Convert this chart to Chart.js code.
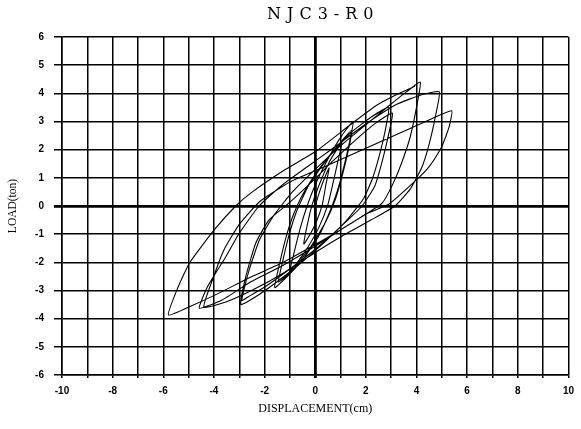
<!DOCTYPE html>
<html><head><meta charset="utf-8">
<script src="https://cdn.jsdelivr.net/npm/chart.js@4"></script>
<style>html,body{margin:0;padding:0;background:#fff;}#wrap{width:581px;height:429px;}</style>
</head><body><div id="wrap"><canvas id="c" width="581" height="429"></canvas></div>
<script>
const TITLE = 'NJC3-R0';
const X_TITLE = 'DISPLACEMENT(cm)';
const Y_TITLE = 'LOAD(ton)';
const xLabelValues = [-10, -8, -6, -4, -2, 0, 2, 4, 6, 8, 10];
const yLabelValues = [-6, -5, -4, -3, -2, -1, 0, 1, 2, 3, 4, 5, 6];

// hysteresis path: displacement (cm) and load (ton)
const dispCm = [
  0, 0.15, 0.35, 0.55,
  0.42, 0.28, 0.05, -0.2, -0.45,
  -0.32, -0.12, 0.2, 0.55, 0.85, 1.05,
  0.9, 0.7, 0.5, 0.15, -0.35, -0.75, -1.0,
  -0.82, -0.58, -0.32, 0.05, 0.55, 1.05, 1.5,
  1.35, 1.12, 0.88, 0.6, 0.15, -0.45, -1.05, -1.6,
  -1.42, -1.18, -0.9, -0.5, 0.1, 0.8, 1.45,
  1.3, 1.06, 0.8, 0.42, -0.18, -0.88, -1.45,
  -1.28, -1.04, -0.72, -0.25, 0.5, 1.4, 2.2, 2.9,
  2.78, 2.55, 2.25, 1.9, 1.25, 0.35, -0.6, -1.6, -2.4, -2.94,
  -2.74, -2.35, -1.83, -1.04, -0.2, 0.7, 1.6, 2.4, 3.05,
  2.9, 2.65, 2.35, 1.85, 1.05, 0.05, -0.95, -1.95, -2.6, -2.9,
  -2.62, -2.2, -1.65, -0.9, 0.0, 0.95, 1.95, 2.9, 3.6, 4.15,
  4.02, 3.75, 3.4, 3.05, 2.64, 1.9, 1.0, 0.04, -1.26, -2.56, -3.7, -4.58,
  -4.25, -3.53, -3.0, -2.22, -1.3, -0.3, 0.7, 1.9, 3.2, 4.2, 4.9,
  4.75, 4.5, 4.2, 3.75, 3.15, 2.2, 1.0, 0.0, -1.2, -2.4, -3.5, -4.4,
  -4.05, -3.6, -3.0, -2.2, -1.0, 0.5, 2.0, 3.5, 4.6, 5.39,
  5.3, 5.15, 4.97, 4.5, 3.94, 2.9, 1.99, 0.95, 0.04, -1.26, -2.56, -3.86, -4.9, -5.8,
  -5.45, -4.97, -3.99, -3.14, -2.56, -1.26, 0.04, 1.34, 2.38, 3.2, 3.94
];
const loadTon = [
  0, 0.45, 0.95, 1.35,
  0.75, 0.05, -0.55, -1.0, -1.35,
  -0.7, 0.05, 0.85, 1.55, 2.0, 2.25,
  1.6, 0.8, 0.05, -0.75, -1.55, -2.05, -2.3,
  -1.6, -0.75, 0.0, 0.85, 1.75, 2.5, 3.0,
  2.25, 1.35, 0.55, -0.15, -1.05, -1.85, -2.45, -2.9,
  -2.1, -1.2, -0.4, 0.4, 1.25, 2.05, 2.7,
  1.95, 1.05, 0.25, -0.55, -1.45, -2.25, -2.7,
  -1.95, -1.05, -0.15, 0.75, 1.7, 2.6, 3.15, 3.5,
  2.75, 1.85, 0.95, 0.25, -0.5, -1.3, -2.05, -2.75, -3.25, -3.5,
  -2.5, -1.32, -0.5, 0.1, 0.8, 1.6, 2.35, 2.95, 3.3,
  2.55, 1.6, 0.7, 0.0, -0.7, -1.5, -2.2, -2.85, -3.2, -3.35,
  -2.3, -1.2, -0.35, 0.5, 1.3, 2.1, 2.85, 3.55, 4.05, 4.4,
  3.6, 2.45, 1.5, 0.75, 0.1, -0.35, -0.85, -1.4, -2.1, -2.7, -3.35, -3.63,
  -2.86, -1.8, -0.97, 0.0, 0.75, 1.4, 2.05, 2.85, 3.6, 3.95, 4.05,
  3.2, 2.2, 1.35, 0.6, 0.0, -0.5, -1.1, -1.65, -2.35, -2.95, -3.4, -3.6,
  -2.6, -1.55, -0.65, 0.15, 0.85, 1.45, 2.05, 2.65, 3.1, 3.38,
  2.85, 2.45, 2.06, 1.4, 0.88, 0.06, -0.29, -0.88, -1.35, -2.0, -2.53, -3.12, -3.55, -3.87,
  -2.95, -2.03, -0.85, 0.0, 0.45, 1.25, 1.95, 2.85, 3.55, 3.95, 4.25
];

const points = dispCm.map((x, i) => ({ x: x, y: loadTon[i] }));

const titlePlugin = {
  id: 'topTitle',
  afterDraw(chart) {
    const ctx = chart.ctx, a = chart.chartArea;
    ctx.save();
    ctx.font = '16px "DejaVu Serif"';
    ctx.letterSpacing = '6px';
    ctx.fillStyle = '#000';
    ctx.textAlign = 'center';
    ctx.textBaseline = 'middle';
    ctx.fillText(TITLE, (a.left + a.right) / 2 + 8, 15);
    ctx.restore();
  }
};

const gridWidth = c => (c.tick && c.tick.value === 0) ? 2.8 : 1.5;

new Chart(document.getElementById('c'), {
  type: 'scatter',
  data: {
    datasets: [{
      data: points,
      showLine: true,
      borderColor: '#000',
      borderWidth: 1.1,
      pointRadius: 0,
      tension: 0.15,
      fill: false
    }]
  },
  options: {
    responsive: false,
    animation: false,
    devicePixelRatio: 1,
    layout: { padding: { top: 37, right: 10, bottom: 9, left: 0 } },
    plugins: { legend: { display: false }, tooltip: { enabled: false }, title: { display: false } },
    scales: {
      x: {
        type: 'linear', min: -10, max: 10,
        afterFit(s) { s.height = 45; },
        border: { display: true, color: '#000', width: 1.5 },
        grid: { color: '#000', lineWidth: gridWidth, tickLength: 3, drawTicks: true },
        ticks: {
          stepSize: 1, autoSkip: false, maxRotation: 0, padding: 7, color: '#000',
          font: { family: '"Liberation Sans"', size: 10, weight: 'bold' },
          callback: v => xLabelValues.includes(v) ? String(v) : ''
        },
        title: { display: true, text: X_TITLE, color: '#000', padding: { top: 4, bottom: 4 },
          font: { family: '"Liberation Serif"', size: 12 } }
      },
      y: {
        type: 'linear', min: -6, max: 6,
        afterFit(s) { s.width = 62; },
        border: { display: true, color: '#000', width: 1.5 },
        grid: { color: '#000', lineWidth: gridWidth, tickLength: 8, drawTicks: true },
        ticks: {
          stepSize: 1, autoSkip: false, padding: 10, color: '#000',
          font: { family: '"Liberation Sans"', size: 10, weight: 'bold' },
          callback: v => yLabelValues.includes(v) ? String(v) : ''
        },
        title: { display: true, text: Y_TITLE, color: '#000', padding: { top: 6, bottom: 4 },
          font: { family: '"Liberation Serif"', size: 11.5 } }
      }
    }
  },
  plugins: [titlePlugin]
});
</script>
</body></html>
